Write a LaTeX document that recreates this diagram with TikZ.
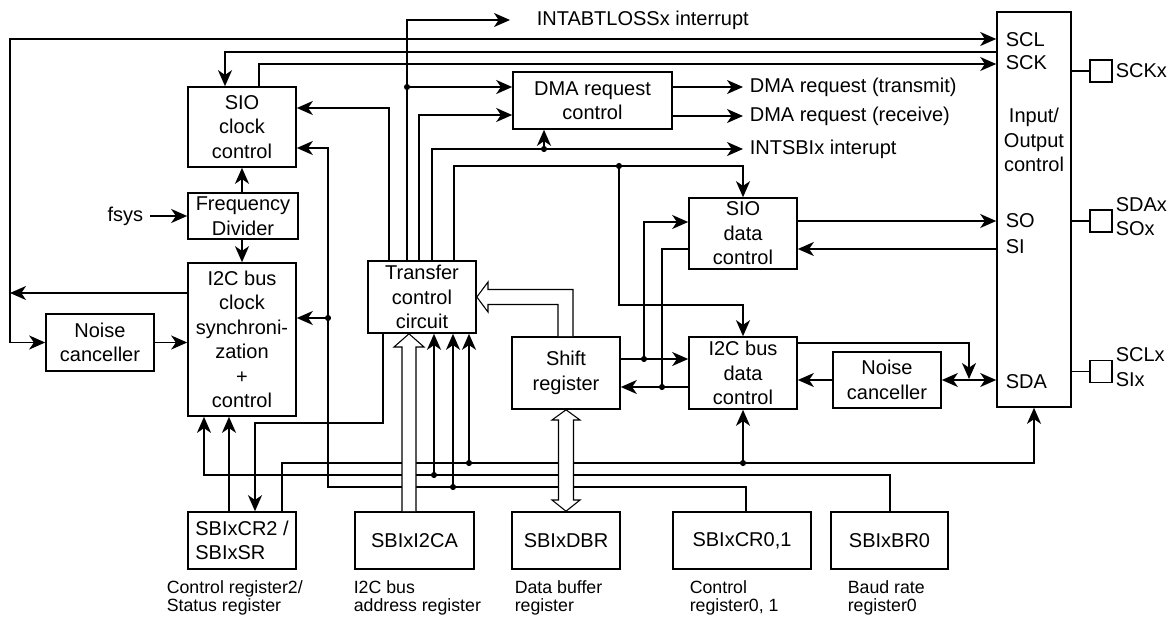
\documentclass[tikz,border=0pt]{standalone}
\usepackage{fontspec}
\setmainfont{Liberation Sans}
\usetikzlibrary{arrows.meta}

\begin{document}
\begin{tikzpicture}[x=0.75pt,y=-0.75pt,line width=1.2pt,
    >={Stealth[length=12pt,width=10.5pt,inset=3.5pt]},
    every node/.style={font=\fontsize{15}{18.4}\selectfont},
    blk/.style={draw,inner sep=0pt,align=center},
    lbl/.style={anchor=west,inner sep=0pt},
    captxt/.style={anchor=west,inner sep=0pt,align=left,font=\fontsize{13.3}{13.5}\selectfont},
    pin/.style={draw,inner sep=0pt,minimum size=16.5pt},
    hollow/.style={line width=0.8pt,fill=white}]
        \useasboundingbox (0,0) rectangle (1176,621);
        % blocks
        \node[blk,minimum width=81pt,minimum height=60pt] (sioclk) at (242,127) {SIO\\clock\\control};
        \node[blk,minimum width=82.5pt,minimum height=34.5pt] (freqdiv) at (243,216) {Frequency\\Divider};
        \node[blk,minimum width=81pt,minimum height=114.75pt] (i2cclk) at (242,339.5) {I2C bus\\clock\\synchroni-\\zation\\+\\control};
        \node[blk,minimum width=81pt,minimum height=42.75pt] (noisel) at (100,342.5) {Noise\\canceller};
        \node[blk,minimum width=81pt,minimum height=54pt] (tcc) at (422,297) {Transfer\\control\\circuit};
        \node[blk,minimum width=119.25pt,minimum height=42.75pt] (dma) at (592.5,100.5) {DMA request\\control};
        \node[blk,minimum width=81pt,minimum height=53.25pt] (siodat) at (743,233.5) {SIO\\data\\control};
        \node[blk,minimum width=81pt,minimum height=54pt] (i2cdat) at (743,373) {I2C bus\\data\\control};
        \node[blk,minimum width=81pt,minimum height=54pt] (shift) at (566,373) {Shift\\register};
        \node[blk,minimum width=81pt,minimum height=42pt] (noiser) at (887,380) {Noise\\canceller};
        \node[blk,minimum width=55.5pt,minimum height=296.25pt] (io) at (1034,209.5) {};
        \node[align=center,inner sep=0pt] (iotxt) at (1034,140) {Input/\\Output\\control};
        % registers
        \node[blk,align=left,minimum width=81pt,minimum height=42.75pt] (cr2) at (242,540.5) {SBIxCR2 /\\SBIxSR};
        \node[blk,minimum width=89.25pt,minimum height=42.75pt] (i2ca) at (414.5,540.5) {SBIxI2CA};
        \node[blk,minimum width=81pt,minimum height=42.75pt] (dbr) at (566,540.5) {SBIxDBR};
        \node[blk,minimum width=103.5pt,minimum height=42.75pt] (cr01) at (742,540.5) {SBIxCR0,1};
        \node[blk,minimum width=87.75pt,minimum height=42.75pt] (br0) at (889.5,540.5) {SBIxBR0};
        \node[captxt] at (166,598) {Control register2/\\Status register};
        \node[captxt] at (353,598) {I2C bus\\address register};
        \node[captxt] at (514,598) {Data buffer\\register};
        \node[captxt] at (689,598) {Control\\register0, 1};
        \node[captxt] at (847,598) {Baud rate\\register0};
        % port labels
        \node[lbl] at (1005,40) {SCL};
        \node[lbl] at (1005,63) {SCK};
        \node[lbl] at (1005,221) {SO};
        \node[lbl] at (1005,247) {SI};
        \node[lbl] at (1005,382) {SDA};
        \node[pin] (pinsck) at (1101,71) {};
        \node[pin] (pinsda) at (1101,221) {};
        \node[pin] (pinscl) at (1101,371.5) {};
        \draw (io.east |- pinsck) -- (pinsck);
        \draw (io.east |- pinsda) -- (pinsda);
        \draw (io.east |- pinscl) -- (pinscl);
        \node[lbl] at (1115,71) {SCKx};
        \node[lbl,align=left] at (1115,216.5) {SDAx\\SOx};
        \node[lbl,align=left] at (1115,367) {SCLx\\SIx};
        % outputs
        \node[anchor=west,inner xsep=19.5pt,inner ysep=0pt] (intab) at (510,20) {INTABTLOSSx interrupt};
        \node[anchor=west,inner xsep=4.5pt,inner ysep=0pt] (dmatx) at (743,87) {DMA request (transmit)};
        \node[anchor=west,inner xsep=4.5pt,inner ysep=0pt] (dmarx) at (743,116) {DMA request (receive)};
        \node[anchor=west,inner xsep=4.5pt,inner ysep=0pt] (intsb) at (743,149) {INTSBIx interupt};
        \node[anchor=east,inner xsep=4.5pt,inner ysep=0pt] (fsys) at (150,216) {fsys};
        % clock side
        \draw[->] (i2cclk.west |- 0,293) -- (10,293);
        \draw[<->] (noisel.west) -| (10,39) -- (io.west |- 0,39);
        \draw[->] (io.west |- 0,52) -| (sioclk.north -| 225,0);
        \draw[->] (sioclk.north -| 259,0) |- (io.west |- 0,64);
        \draw[->] (fsys.east) -- (fsys.east -| freqdiv.west);
        \draw[->] (freqdiv.north -| sioclk.south) -- (sioclk.south);
        \draw[->] (freqdiv.south -| i2cclk.north) -- (i2cclk.north);
        \draw[->] (noisel.east) -- (noisel.east -| i2cclk.west);
        % transfer control outputs
        \draw[->] (tcc.north -| 389,0) |- (sioclk.east |- 0,108);
        \draw[->] (tcc.north -| 407,0) |- (intab.west);
        \fill (407,87) circle (2.3pt);
        \draw[->] (407,87) -- (dma.west |- 0,87);
        \draw[->] (tcc.north -| 419,0) |- (dma.west |- 0,115);
        \draw[->] (tcc.north -| 432,0) |- (intsb.west);
        \fill (544,149) circle (2.3pt);
        \draw[->] (544,149) -- (dma.south -| 544,0);
        \draw[->] (tcc.north -| 454,0) |- (619,166) -| (siodat.north);
        \fill (619,166) circle (2.3pt);
        \draw[->] (619,166) |- (i2cdat.north |- 0,305) -- (i2cdat.north);
        \draw[->] (dma.east |- 0,87) -- (dmatx.west);
        \draw[->] (dma.east |- 0,116) -- (dmarx.west);
        % data path
        \draw[->] (siodat.east |- 0,221) -- (io.west |- 0,221);
        \draw[->] (io.west |- 0,249) -- (siodat.east |- 0,249);
        \draw[->] (shift.east |- 0,359) -- (i2cdat.west |- 0,359);
        \fill (644,359) circle (2.3pt);
        \draw[->] (644,359) |- (siodat.west |- 0,222);
        \draw (siodat.west |- 0,249) -| (662,387);
        \fill (662,387) circle (2.3pt);
        \draw[->] (i2cdat.west |- 0,387) -- (shift.east |- 0,387);
        \draw[->] (i2cdat.east |- 0,343) -| (969,379);
        \draw[<->] (noiser.east) -- (noiser.east -| io.west);
        \draw[->] (noiser.west) -- (noiser.west -| i2cdat.east);
        % register buses
        \draw[->] (tcc.south -| 383,0) |- (255,423) -- (cr2.north -| 255,0);
        \draw[->] (cr2.north -| 229,0) -- (i2cclk.south -| 229,0);
        \draw[->] (cr2.north -| 282,0) |- (io.south |- 0,463) -- (io.south);
        \fill (469,463) circle (2.3pt);
        \draw[->] (469,463) -- (tcc.south -| 469,0);
        \fill (743,463) circle (2.3pt);
        \draw[->] (743,463) -- (i2cdat.south);
        \draw[->] (br0.north -| 890,0) |- (204,475) -- (i2cclk.south -| 204,0);
        \fill (434,475) circle (2.3pt);
        \draw[->] (434,475) -- (tcc.south -| 434,0);
        \draw[->] (cr01.north -| 746,0) |- (328,487) |- (sioclk.east |- 0,148);
        \fill (453,487) circle (2.3pt);
        \draw[->] (453,487) -- (tcc.south -| 453,0);
        \fill (328,318) circle (2.3pt);
        \draw[->] (328,318) -- (i2cclk.east |- 0,318);
        % wide arrows
        \draw[hollow] (i2ca.north -| 402,0) -- (402,347) -- (394,347) -- (tcc.south -| 409,0) -- (424,347) -- (416,347) -- (i2ca.north -| 416,0);
        \draw[hollow] (shift.north -| 573,0) |- (488,289.5) -- (488,282) -- (tcc.east) -- (488,312) -- (488,304.5) -| (shift.north -| 558,0);
        \draw[hollow] (shift.south -| 566,0) -- (580,420) -- (573.5,420) -- (573.5,500) -- (580,500) -- (dbr.north -| 566,0) -- (552,500) -- (558.5,500) -- (558.5,420) -- (552,420) -- cycle;
    \end{tikzpicture}
\end{document}
